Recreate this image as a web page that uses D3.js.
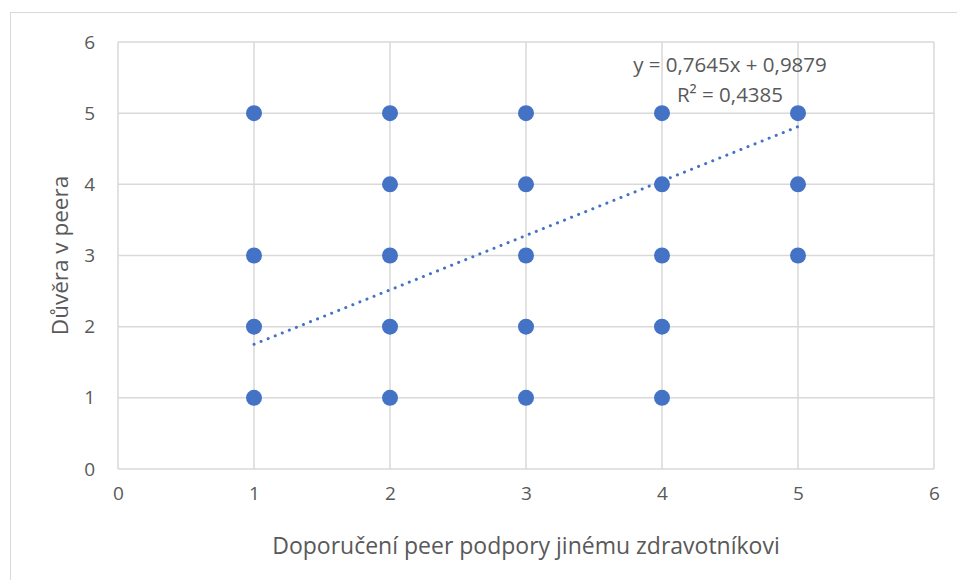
<!DOCTYPE html>
<html>
<head>
<meta charset="utf-8">
<script src="https://cdn.jsdelivr.net/npm/d3@7"></script>
<style>
  body { margin: 0; background: #fff; }
  text { font-family: "Open Sans", sans-serif; fill: #595959; }
</style>
</head>
<body>
<div class="d3-container"></div>
<script>
// data (overlapping points drawn once)
const xValues = [1, 1, 1, 1, 2, 2, 2, 2, 2, 3, 3, 3, 3, 3, 4, 4, 4, 4, 4, 5, 5, 5];
const yValues = [5, 3, 2, 1, 5, 4, 3, 2, 1, 5, 4, 3, 2, 1, 5, 4, 3, 2, 1, 5, 4, 3];
const tickValues = [0, 1, 2, 3, 4, 5, 6];
const slope = 0.7645;
const intercept = 0.9879;
const trendRange = [1, 5];
const equationLabel = "y = 0,7645x + 0,9879";
const r2Label = "R² = 0,4385";
const xTitle = "Doporučení peer podpory jinému zdravotníkovi";
const yTitle = "Důvěra v peera";

const width = 957;
const height = 580;
const margin = {top: 42, bottom: 111, left: 118, right: 23};

const svg = d3.select(".d3-container")
  .append("svg")
  .attr("width", width)
  .attr("height", height);

// outer chart frame
svg.append("rect")
  .attr("x", 10.5).attr("y", 12.5)
  .attr("width", width).attr("height", height)
  .attr("fill", "none")
  .attr("stroke", "#d9d9d9")
  .attr("stroke-width", 1);

const x = d3.scaleLinear().domain([0, 6]).range([margin.left, width - margin.right]);
const y = d3.scaleLinear().domain([0, 6]).range([height - margin.bottom, margin.top]);

// gridlines
const grid = svg.append("g").attr("stroke", "#d9d9d9").attr("stroke-width", 1.5);
grid.selectAll(".gx").data(tickValues).join("line")
  .attr("x1", d => x(d)).attr("x2", d => x(d))
  .attr("y1", y(0)).attr("y2", y(6));
grid.selectAll(".gy").data(tickValues).join("line")
  .attr("x1", x(0)).attr("x2", x(6))
  .attr("y1", d => y(d)).attr("y2", d => y(d));

// axes (labels only)
function xAxis(g) {
  g.attr("transform", `translate(0, ${height - margin.bottom})`)
    .call(d3.axisBottom(x).tickValues(tickValues).tickSize(0).tickPadding(18).tickFormat(d3.format("d")))
    .call(g => g.select(".domain").remove());
}
function yAxis(g) {
  g.attr("transform", `translate(${margin.left}, 0)`)
    .call(d3.axisLeft(y).tickValues(tickValues).tickSize(0).tickPadding(23).tickFormat(d3.format("d")))
    .call(g => g.select(".domain").remove());
}
svg.append("g").call(xAxis);
svg.append("g").call(yAxis);
svg.selectAll(".tick text").attr("font-size", 19).attr("fill", "#595959")
  .style("font-family", "'Open Sans', sans-serif");

// points
svg.append("g")
  .attr("fill", "#4472c4")
  .selectAll("circle")
  .data(xValues.map((v, i) => ({x: v, y: yValues[i]})))
  .join("circle")
  .attr("cx", d => x(d.x))
  .attr("cy", d => y(d.y))
  .attr("r", 8);

// linear trendline
const trend = trendRange.map(v => [v, slope * v + intercept]);
svg.append("path")
  .datum(trend)
  .attr("fill", "none")
  .attr("stroke", "#4472c4")
  .attr("stroke-width", 3)
  .attr("stroke-linecap", "round")
  .attr("stroke-dasharray", "0.1 7.5")
  .attr("d", d3.line().x(d => x(d[0])).y(d => y(d[1])));

// equation
svg.append("text").attr("x", 730).attr("y", 72).attr("text-anchor", "middle")
  .attr("font-size", 20.5).text(equationLabel);
svg.append("text").attr("x", 730).attr("y", 102).attr("text-anchor", "middle")
  .attr("font-size", 20.5).text(r2Label);

// axis titles
svg.append("text")
  .attr("x", x(3)).attr("y", 554)
  .attr("text-anchor", "middle").attr("font-size", 23)
  .text(xTitle);
svg.append("text")
  .attr("transform", `translate(68, ${y(3)}) rotate(-90)`)
  .attr("text-anchor", "middle").attr("font-size", 22.5)
  .text(yTitle);
</script>
</body>
</html>
